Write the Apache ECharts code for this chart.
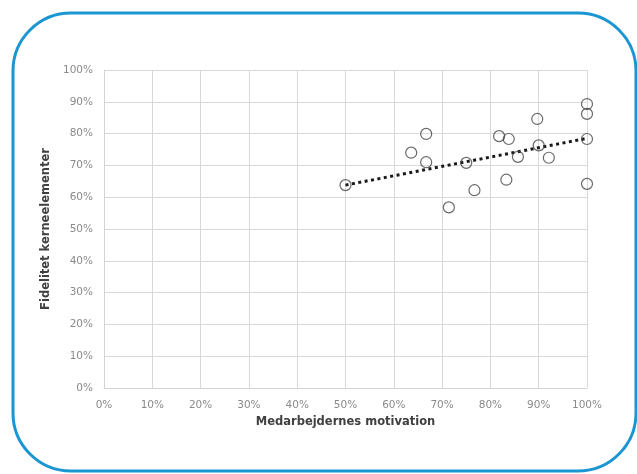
<!DOCTYPE html>
<html>
<head>
<meta charset="utf-8">
<script src="https://cdn.jsdelivr.net/npm/echarts@6/dist/echarts.min.js"></script>
<style>
  html, body { margin: 0; padding: 0; background: #ffffff; }
  #chart { width: 637px; height: 474px; }
</style>
</head>
<body>
<div id="chart"></div>
<script>
// Medarbejdernes motivation (x, %) vs. fidelitet på kerneelementer (y, %)
const motivation = [50.0, 63.6, 66.7, 66.7, 71.4, 75.0, 76.7, 81.8, 83.8, 83.3, 85.7, 89.7, 90.0, 92.1, 100, 100, 100, 100];
const fidelitet  = [63.8, 74.0, 79.9, 71.0, 56.8, 70.8, 62.2, 79.2, 78.3, 65.5, 72.7, 84.6, 76.3, 72.4, 89.3, 86.2, 78.3, 64.2];

// Lineær tendenslinje (endepunkter)
const trendX = [50, 100];
const trendY = [63.8, 78.5];

const xTitle = 'Medarbejdernes motivation';
const yTitle = 'Fidelitet kerneelementer';

const points = motivation.map((v, i) => [v, fidelitet[i]]);
const trend = trendX.map((v, i) => [v, trendY[i]]);

const chart = echarts.init(document.getElementById('chart'), null, { renderer: 'canvas' });

const labelFont = { color: '#8a8a8a', fontFamily: 'DejaVu Sans, Verdana, sans-serif', fontSize: 10.5 };
const titleFont = { color: '#404040', fontFamily: 'DejaVu Sans, Verdana, sans-serif', fontSize: 11.5, fontWeight: 'bold' };

chart.setOption({
  animation: false,
  backgroundColor: '#ffffff',
  graphic: [{
    type: 'rect',
    shape: { x: 13, y: 13, width: 623, height: 458, r: 58 },
    style: { fill: 'none', stroke: '#1b96d2', lineWidth: 3 },
    z: 100
  }],
  grid: { left: 104, right: 50, top: 70, bottom: 86, containLabel: false },
  xAxis: {
    type: 'value', min: 0, max: 100, interval: 10,
    name: xTitle, nameLocation: 'middle', nameGap: 24,
    nameTextStyle: titleFont,
    axisLine: { show: true, lineStyle: { color: '#d4d4d4' } },
    axisTick: { show: false },
    axisLabel: Object.assign({ formatter: '{value}%', margin: 12 }, labelFont),
    splitLine: { show: true, lineStyle: { color: '#d9d9d9', width: 1 } }
  },
  yAxis: {
    type: 'value', min: 0, max: 100, interval: 10,
    name: yTitle, nameLocation: 'middle', nameGap: 50, nameRotate: 90,
    nameTextStyle: titleFont,
    axisLine: { show: true, lineStyle: { color: '#d4d4d4' } },
    axisTick: { show: false },
    axisLabel: Object.assign({ formatter: '{value}%', margin: 11 }, labelFont),
    splitLine: { show: true, lineStyle: { color: '#d9d9d9', width: 1 } }
  },
  series: [
    {
      type: 'line',
      data: trend,
      symbol: 'none',
      lineStyle: { color: '#1a1a1a', width: 3, type: [3, 3.5] },
      z: 3
    },
    {
      type: 'scatter',
      data: points,
      symbol: 'circle',
      symbolSize: 11,
      itemStyle: { color: 'rgba(255,255,255,0)', borderColor: '#444444', borderWidth: 1.2 },
      z: 4
    }
  ]
});
</script>
</body>
</html>
